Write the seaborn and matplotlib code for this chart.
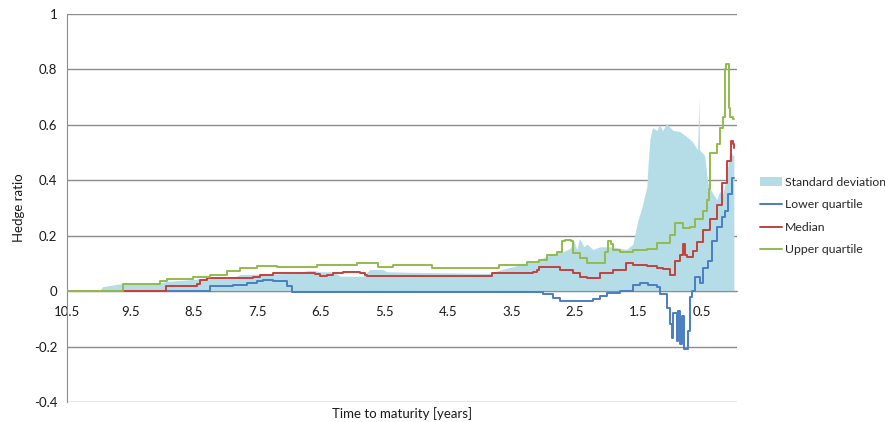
import pandas as pd
import matplotlib
matplotlib.use("Agg")
import matplotlib.pyplot as plt
from matplotlib.ticker import FuncFormatter
from matplotlib.patches import Patch
from matplotlib.lines import Line2D
import seaborn as sns

# Values (time to maturity in years, hedge ratio)
t_upper = [10.50, 9.62, 9.04, 8.93, 8.52, 8.25, 7.98, 7.78, 7.51, 7.20, 6.94, 6.57, 6.31,
           5.94, 5.61, 5.37, 4.76, 3.69, 3.26, 3.06, 2.94, 2.79, 2.71, 2.66, 2.57, 2.54,
           2.43, 2.31, 2.03, 1.98, 1.94, 1.91, 1.80, 1.59, 1.37, 1.21, 1.01, 0.93, 0.80,
           0.69, 0.61, 0.49, 0.43, 0.39, 0.38, 0.27, 0.22, 0.17, 0.14, 0.13, 0.08, 0.06,
           0.02, 0.00]
upper = [0, 0.025, 0.037, 0.043, 0.05, 0.057, 0.072, 0.085, 0.09, 0.088, 0.087, 0.095, 0.095,
         0.1, 0.088, 0.095, 0.082, 0.094, 0.106, 0.114, 0.13, 0.142, 0.18, 0.185, 0.18, 0.137,
         0.12, 0.102, 0.142, 0.18, 0.17, 0.15, 0.14, 0.15, 0.152, 0.173, 0.202, 0.245, 0.227,
         0.23, 0.26, 0.29, 0.33, 0.37, 0.5, 0.53, 0.59, 0.628, 0.8, 0.82, 0.66, 0.63,
         0.62, 0.62]

t_median = [10.50, 8.94, 8.46, 8.41, 8.30, 7.57, 7.46, 7.26, 6.72, 6.60, 6.52, 6.41, 6.31,
            6.16, 5.89, 5.81, 5.78, 3.81, 3.53, 3.17, 3.10, 3.06, 2.74, 2.54, 2.43, 2.31,
            2.11, 1.91, 1.69, 1.59, 1.37, 1.21, 1.12, 1.01, 0.93, 0.85, 0.80, 0.77, 0.74,
            0.65, 0.58, 0.49, 0.38, 0.27, 0.19, 0.11, 0.05, 0.02, 0.00]
median = [0, 0.018, 0.025, 0.04, 0.046, 0.052, 0.058, 0.064, 0.067, 0.062, 0.054, 0.058, 0.064,
          0.068, 0.064, 0.058, 0.054, 0.064, 0.066, 0.07, 0.078, 0.088, 0.076, 0.066, 0.052, 0.049,
          0.064, 0.078, 0.1, 0.094, 0.092, 0.082, 0.08, 0.058, 0.11, 0.13, 0.17, 0.13, 0.124,
          0.146, 0.178, 0.22, 0.26, 0.31, 0.39, 0.47, 0.54, 0.53, 0.515]

t_lower = [10.50, 8.25, 7.89, 7.67, 7.51, 7.42, 7.26, 7.04, 6.96, 3.01, 2.85, 2.74, 2.22,
           2.11, 2.00, 1.80, 1.59, 1.48, 1.35, 1.21, 1.17, 1.06, 1.01, 0.98, 0.96, 0.90,
           0.88, 0.85, 0.82, 0.79, 0.74, 0.72, 0.69, 0.66, 0.61, 0.54, 0.49, 0.41, 0.35,
           0.27, 0.19, 0.14, 0.09, 0.03, 0.00]
lower = [0, 0.018, 0.022, 0.028, 0.037, 0.042, 0.035, 0.02, -0.004, -0.01, -0.026, -0.035, -0.03,
         -0.018, -0.006, 0.001, 0.022, 0.03, 0.022, 0.014, -0.01, -0.06, -0.12, -0.17, -0.08, -0.18,
         -0.07, -0.19, -0.09, -0.21, -0.21, -0.145, -0.02, 0.0, 0.05, 0.03, 0.085, 0.11, 0.18,
         0.23, 0.267, 0.29, 0.35, 0.41, 0.41]

t_std = [10.50, 10.22, 9.98, 9.94, 9.78, 9.56, 9.04, 8.93, 8.52, 8.25, 7.89, 7.78, 7.35, 6.94,
         6.72, 6.63, 6.52, 6.31, 6.20, 5.84, 5.73, 5.53, 5.46, 5.10, 3.84, 3.69, 3.48, 3.26,
         3.06, 2.85, 2.69, 2.58, 2.52, 2.47, 2.43, 2.36, 2.31, 2.22, 2.11, 1.91, 1.69, 1.59,
         1.51, 1.45, 1.37, 1.35, 1.32, 1.28, 1.21, 1.17, 1.12, 1.06, 0.96, 0.85, 0.74, 0.65,
         0.57, 0.55, 0.54, 0.46, 0.41, 0.35, 0.27, 0.22, 0.17, 0.11, 0.06, 0.02, 0.00]
std_dev = [0, 0.002, 0.005, 0.016, 0.022, 0.03, 0.03, 0.035, 0.042, 0.048, 0.048, 0.06, 0.062, 0.064,
           0.074, 0.075, 0.07, 0.07, 0.054, 0.054, 0.078, 0.078, 0.07, 0.068, 0.064, 0.076, 0.088, 0.102,
           0.114, 0.136, 0.142, 0.154, 0.18, 0.15, 0.19, 0.16, 0.17, 0.15, 0.16, 0.16, 0.15, 0.17,
           0.256, 0.3, 0.376, 0.46, 0.55, 0.59, 0.58, 0.6, 0.58, 0.605, 0.58, 0.576, 0.557, 0.539,
           0.51, 0.70, 0.51, 0.49, 0.39, 0.36, 0.33, 0.36, 0.35, 0.42, 0.52, 0.49, 0.49]

x_ticks = [10.5, 9.5, 8.5, 7.5, 6.5, 5.5, 4.5, 3.5, 2.5, 1.5, 0.5]
y_ticks = [-0.4, -0.2, 0, 0.2, 0.4, 0.6, 0.8, 1]

colors = {"Standard deviation": "#B4DDE7", "Lower quartile": "#4A7EC2",
          "Median": "#C4413E", "Upper quartile": "#93BB4C"}
grid_col = "#8C8C8C"

sns.set_style("white")
plt.rcParams["font.family"] = ["Lato", "DejaVu Sans"]
plt.rcParams["font.size"] = 9.5

fig = plt.figure(figsize=(8.85, 4.22), dpi=100)
ax = fig.add_axes([67 / 885, 20 / 422, 670 / 885, 388 / 422])

# standard deviation area
ax.fill_between(t_std, 0, std_dev, color=colors["Standard deviation"], lw=0, zorder=1)

lines = [("Lower quartile", t_lower, lower),
         ("Median", t_median, median),
         ("Upper quartile", t_upper, upper)]
for name, tt, vv in lines:
    df = pd.DataFrame({"t": tt, "v": vv})
    sns.lineplot(data=df, x="t", y="v", ax=ax, color=colors[name], lw=1.4,
                 estimator=None, sort=False, drawstyle="steps-post", zorder=3)

ax.set_xlim(10.5, -0.05)
ax.set_ylim(-0.4, 1)
ax.set_yticks(y_ticks)
ax.set_xticks(x_ticks)
ax.yaxis.set_major_formatter(FuncFormatter(lambda v, p: "{:g}".format(round(v, 1))))
ax.xaxis.set_major_formatter(FuncFormatter(lambda v, p: "{:g}".format(v)))

ax.grid(axis="y", color=grid_col, lw=1.0, zorder=0)
ax.grid(axis="x", visible=False)
ax.spines["top"].set_visible(False)
ax.spines["right"].set_visible(False)
ax.spines["left"].set_color(grid_col)
ax.spines["bottom"].set_color(grid_col)
ax.spines["bottom"].set_position(("data", 0))
ax.spines["bottom"].set_zorder(2)
ax.tick_params(axis="y", length=4, color=grid_col, pad=3, labelcolor="#1a1a1a")
ax.tick_params(axis="x", length=4, color=grid_col, pad=7, labelcolor="#1a1a1a", direction="out")

ax.set_xlabel("Time to maturity [years]", color="#1a1a1a")
ax.xaxis.set_label_coords(0.5, -0.012)
ax.set_ylabel("Hedge ratio", color="#1a1a1a")
ax.yaxis.set_label_coords(-0.062, 0.5)

handles = [Patch(facecolor=colors["Standard deviation"], edgecolor="none")]
handles += [Line2D([0], [0], color=colors[n], lw=1.4) for n, _, _ in lines]
labels = ["Standard deviation"] + [n for n, _, _ in lines]
fig.legend(handles, labels, loc="center left", bbox_to_anchor=(760 / 885, 1 - 216 / 422),
           frameon=False, borderpad=0, borderaxespad=0, handlelength=1.8,
           handletextpad=0.25, labelspacing=0.95, fontsize=8.8)

fig.savefig("out.png", dpi=100)
